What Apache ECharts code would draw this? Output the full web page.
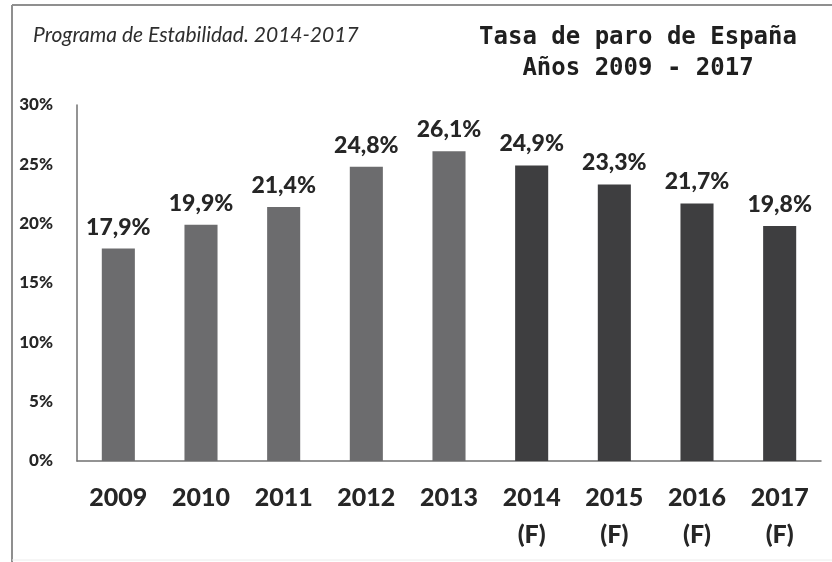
<!DOCTYPE html>
<html>
<head>
<meta charset="utf-8">
<script src="https://cdn.jsdelivr.net/npm/echarts@6/dist/echarts.min.js"></script>
<style>
  html, body { margin: 0; padding: 0; background: #ffffff; }
  #chart { width: 832px; height: 562px; }
</style>
</head>
<body>
<div id="chart"></div>
<script>
// Tasa de paro de España, 2009-2017 (2014-2017 previsiones)
const years = ["2009", "2010", "2011", "2012", "2013", "2014", "2015", "2016", "2017"];
const forecast = [false, false, false, false, false, true, true, true, true];
const unemployment = [17.9, 19.9, 21.4, 24.8, 26.1, 24.9, 23.3, 21.7, 19.8];
const yTicks = [0, 5, 10, 15, 20, 25, 30];

const histColor = "#6c6c6e";
const fcColor = "#3e3e40";
const textColor = "#262626";
const labelFont = "Lato, 'Open Sans', sans-serif";

const categories = years.map((y, i) => forecast[i] ? y + "\n(F)" : y);

const chart = echarts.init(document.getElementById("chart"), null, { renderer: "canvas" });

chart.setOption({
  backgroundColor: "#ffffff",
  animation: false,
  graphic: [
    // frame
    { type: "line", shape: { x1: 12, y1: 5, x2: 832, y2: 5 }, style: { stroke: "#8f8f8f", lineWidth: 2 } },
    { type: "line", shape: { x1: 12, y1: 5, x2: 12, y2: 562 }, style: { stroke: "#8f8f8f", lineWidth: 2 } },
    { type: "line", shape: { x1: 12, y1: 560, x2: 832, y2: 560 }, style: { stroke: "#ececec", lineWidth: 1 } },
    {
      type: "text", left: 33, top: 25,
      style: {
        text: "Programa de Estabilidad. 2014-2017",
        font: "italic 21px Lato, 'Open Sans', sans-serif",
        fill: "#2e2e2e"
      }
    },
    {
      type: "text", x: 638, y: 22,
      style: {
        text: "Tasa de paro de España\nAños 2009 - 2017",
        font: "bold 24px 'DejaVu Sans Mono', 'Liberation Mono', monospace",
        lineHeight: 31,
        align: "center",
        fill: "#1f1f1f"
      }
    }
  ],
  grid: { left: 77, right: 11, top: 105, bottom: 101, containLabel: false },
  xAxis: {
    type: "category",
    data: categories,
    axisLine: { show: true, lineStyle: { color: "#707070", width: 1.5 } },
    axisTick: { show: false },
    axisLabel: {
      interval: 0,
      margin: 18,
      color: textColor,
      fontFamily: labelFont,
      fontWeight: 900,
      fontSize: 25,
      lineHeight: 37
    }
  },
  yAxis: {
    type: "value",
    min: yTicks[0],
    max: yTicks[yTicks.length - 1],
    interval: 5,
    splitLine: { show: false },
    axisLine: { show: true, lineStyle: { color: "#707070", width: 1.5 } },
    axisTick: { show: false },
    axisLabel: {
      margin: 24,
      color: textColor,
      fontFamily: labelFont,
      fontWeight: 900,
      fontSize: 17,
      formatter: v => v + "%"
    }
  },
  series: [{
    type: "bar",
    barWidth: "40%",
    data: unemployment.map((v, i) => ({
      value: v,
      itemStyle: { color: forecast[i] ? fcColor : histColor }
    })),
    label: {
      show: true,
      position: "top",
      distance: 10,
      color: textColor,
      fontFamily: labelFont,
      fontWeight: 900,
      fontSize: 23,
      formatter: p => p.value.toFixed(1).replace(".", ",") + "%"
    }
  }]
});
</script>
</body>
</html>
